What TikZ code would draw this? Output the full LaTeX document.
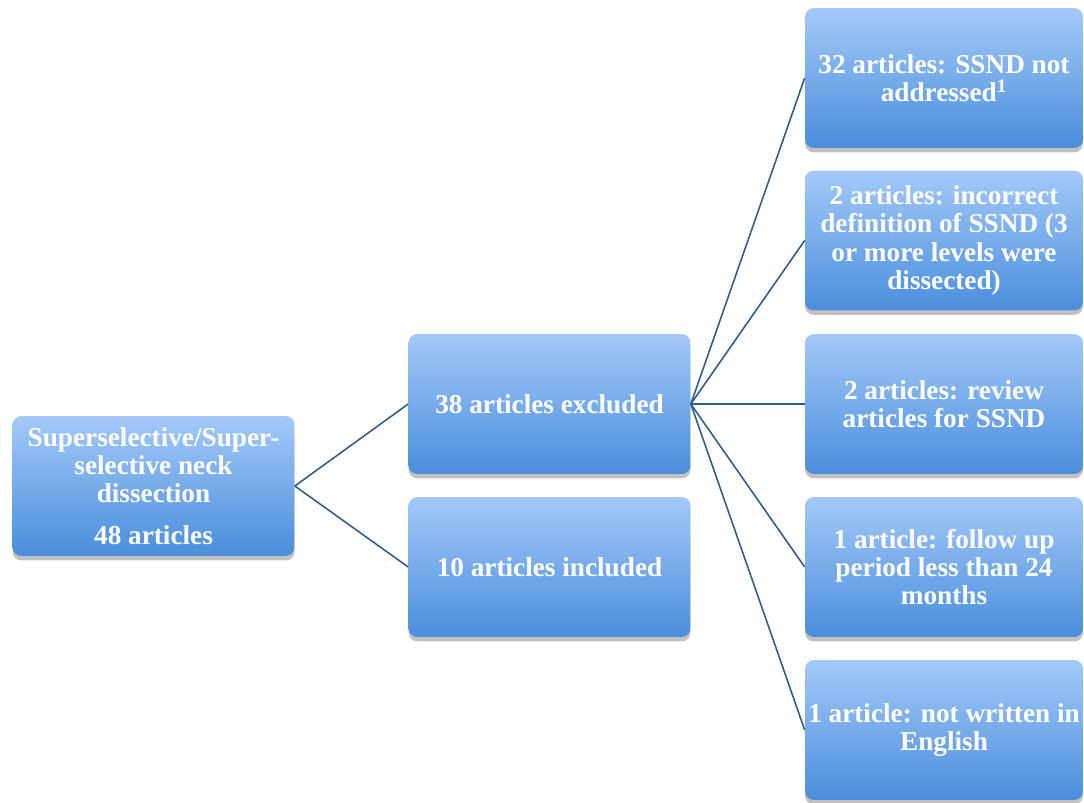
\documentclass[tikz,border=0pt]{standalone}
\usepackage{fontspec}
\setmainfont{Liberation Serif}
\usetikzlibrary{shadows}
\definecolor{boxtop}{HTML}{A4C9F8}
\definecolor{boxbot}{HTML}{4A8EDC}
\definecolor{linkblue}{HTML}{2F5E8E}

\begin{document}
\begin{tikzpicture}[x=0.02cm,y=-0.02cm]
\useasboundingbox (0,0) rectangle (1084,803);
\begin{scope}[every node/.style={rectangle,rounded corners=5pt,
              top color=boxtop,bottom color=boxbot,draw=none,
              drop shadow={shadow xshift=0pt,shadow yshift=-2.5pt,opacity=.35,fill=black!70},
              text=white,font=\bfseries\fontsize{15.5}{16}\selectfont,align=center,
              minimum width=5.64cm,minimum height=2.8cm,inner sep=1pt}]
    \node (R) at (153.5,486) {Superselective/Super-\\selective neck\\dissection\\[8pt]48 articles};
    \node (E) at (549.5,404) {38 articles excluded};
    \node (I) at (549.5,567) {10 articles included};
\end{scope}
\begin{scope}[every node/.style={rectangle,rounded corners=5pt,
              top color=boxtop,bottom color=boxbot,draw=none,
              drop shadow={shadow xshift=0pt,shadow yshift=-2.5pt,opacity=.35,fill=black!70},
              text=white,font=\bfseries\fontsize{15.5}{16}\selectfont,align=center,
              minimum width=5.56cm,minimum height=2.8cm,inner sep=1pt}]
    \node (X1) at (944,78) {32 articles: SSND not\\addressed\textsuperscript{1}};
    \node (X2) at (944,240.5) {2 articles: incorrect\\definition of SSND (3\\or more levels were\\dissected)};
    \node (X3) at (944,404) {2 articles: review\\articles for SSND};
    \node (X4) at (944,567) {1 article: follow up\\period less than 24\\months};
    \node (X5) at (944,730) {1 article: not written in\\English};
\end{scope}
\begin{scope}[every edge/.style={draw=linkblue,line width=.9pt}]
    \path (R.east) edge (E.west);
    \path (R.east) edge (I.west);
    \foreach \k in {1,...,5}
        \path (E.east) edge (X\k.west);
\end{scope}
\end{tikzpicture}
\end{document}
